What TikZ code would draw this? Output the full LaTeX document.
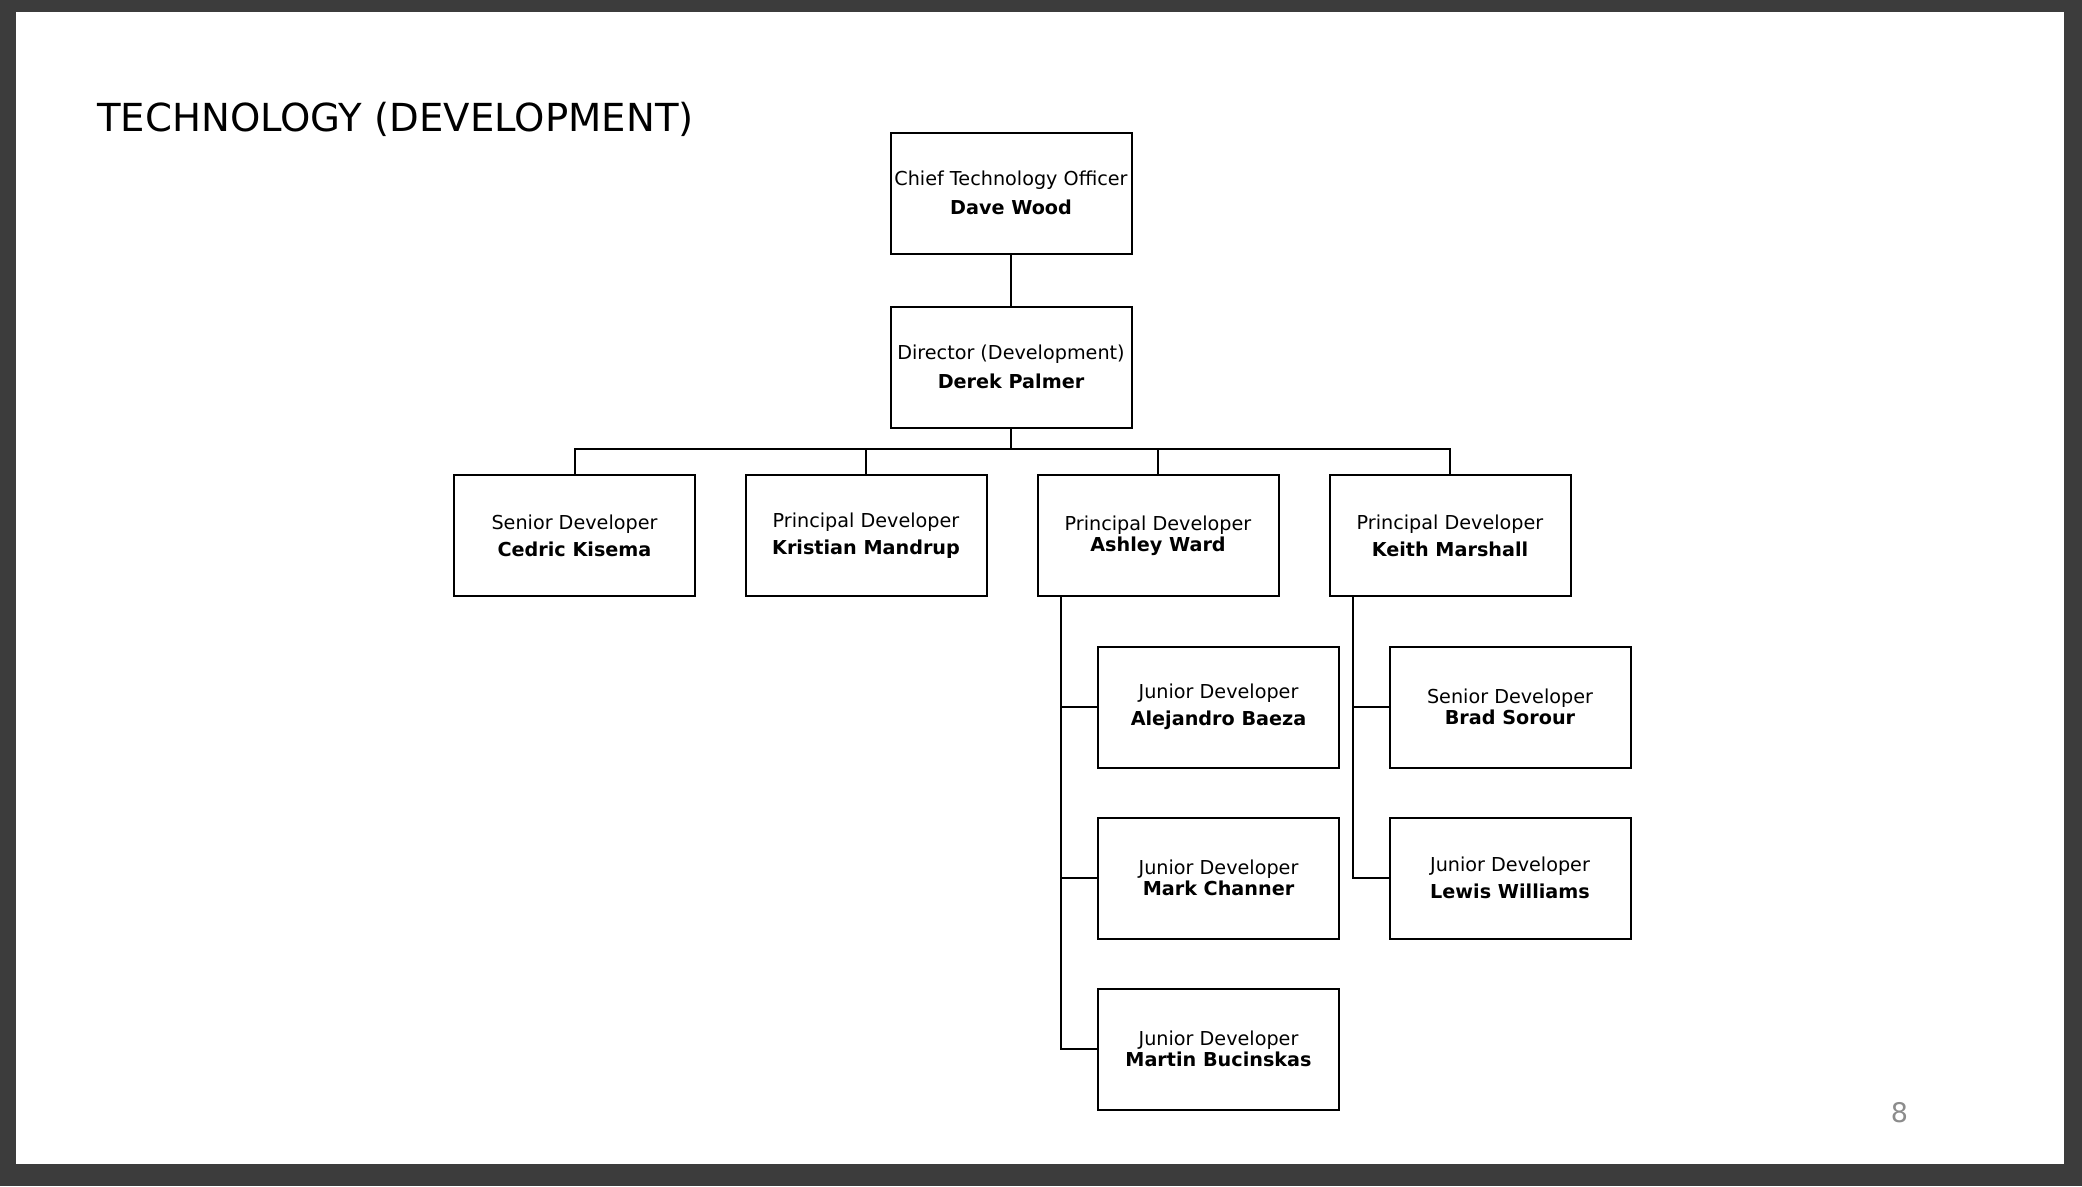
\documentclass[tikz,border=0pt]{standalone}
\usepackage{fontspec}
\setmainfont{DejaVu Sans}
\newcommand{\boxfont}{\fontsize{19.2}{21}\selectfont}
\newcommand{\wide}[3][6pt]{#2\\[#1]\textbf{#3}}
\newcommand{\tight}[2]{#1\\\textbf{#2}}
\definecolor{frame}{HTML}{3C3C3C}
\definecolor{pagenum}{HTML}{8C8C8C}
\tikzset{
  post/.style={draw,line width=2pt,minimum width=241pt,minimum height=121pt,inner sep=0pt,align=center,font=\boxfont},
  link/.style={line width=2pt}
}
\begin{document}
\begin{tikzpicture}[x=1pt,y=-1pt]
        \fill[frame](0,0)rectangle(2082,1186);
        \fill[white](16,12)rectangle(2064,1164);
        \node[anchor=base west,inner sep=0pt,font=\fontsize{38.6}{46}\selectfont](title)at(97,131.7){TECHNOLOGY (DEVELOPMENT)};
        \node[anchor=base,inner sep=0pt,text=pagenum,font=\fontsize{27}{32}\selectfont](page)at(1899.5,1122){8};

        \node[post](cto)at(1011,193){\wide[8pt]{Chief Technology Officer}{Dave Wood}};
        \node[post](dir)at(1011,367){\wide[8pt]{Director (Development)}{Derek Palmer}};

        \node[post](cedric)at(574.5,535.5){\wide{Senior Developer}{Cedric Kisema}};
        \node[post](kristian)at(866,535.5){\wide{Principal Developer}{Kristian Mandrup}};
        \node[post](ashley)at(1158,535.5){\tight{Principal Developer}{Ashley Ward}};
        \node[post](keith)at(1450,535.5){\wide{Principal Developer}{Keith Marshall}};

        \node[post](alejandro)at(1218.5,707){\wide{Junior Developer}{Alejandro Baeza}};
        \node[post](mark)at(1218.5,878){\tight{Junior Developer}{Mark Channer}};
        \node[post](martin)at(1218.5,1049){\tight{Junior Developer}{Martin Bucinskas}};
        \node[post](brad)at(1510,707){\tight{Senior Developer}{Brad Sorour}};
        \node[post](lewis)at(1510,878){\wide{Junior Developer}{Lewis Williams}};

        \draw[link](cto)--(dir);
        \coordinate(bus)at(1011,449);
        \foreach \n in {cedric,kristian,ashley,keith}
          \draw[link](dir.south)--(bus)-|(\n.north);

        \coordinate(ashtrunk)at([xshift=-97pt]ashley.south);
        \foreach \n in {alejandro,mark,martin}
          \draw[link](ashtrunk)|-(\n.west);
        \coordinate(keithtrunk)at([xshift=-97pt]keith.south);
        \foreach \n in {brad,lewis}
          \draw[link](keithtrunk)|-(\n.west);
    \end{tikzpicture}
\end{document}
